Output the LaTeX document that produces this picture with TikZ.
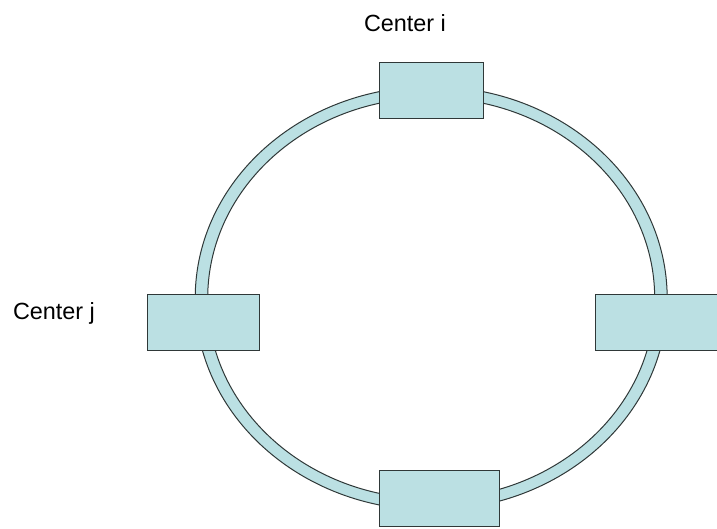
\documentclass[tikz,border=0pt]{standalone}
\usepackage{fontspec}
\setmainfont{Liberation Sans}
\usepackage{tikz}
\definecolor{ringfill}{HTML}{BBE0E3}
\definecolor{ringline}{HTML}{2F3838}
\begin{document}
\begin{tikzpicture}[x=1pt, y=-1pt,
  center box/.style={draw=ringline, fill=ringfill, line width=1pt, rectangle, inner sep=0pt, minimum height=56pt},
  center label/.style={anchor=base, text=black, font=\fontsize{23.4}{28}\selectfont}]
\clip (0,0) rectangle (717,529);
\useasboundingbox (0,0) rectangle (717,529);
% ring
\draw[ringline, line width=1pt, fill=ringfill, even odd rule] (431.2,298.3) ellipse [x radius=236, y radius=211.8] (431.2,298.3) ellipse [x radius=223.5, y radius=200.5];
% centers on the ring
\node[center box, minimum width=104pt] (center top) at (431.3,90.7) {};
\node[center box, minimum width=112.4pt] (center left) at (203.5,322.3) {};
\node[center box, minimum width=124.7pt] (center right) at (657.7,322.3) {};
\node[center box, minimum width=120pt] (center bottom) at (439.3,498.5) {};
\node[center label] (label i) at (405,31.6) {Center i};
\node[center label] (label j) at (54,319.3) {Center j};
\end{tikzpicture}
\end{document}
